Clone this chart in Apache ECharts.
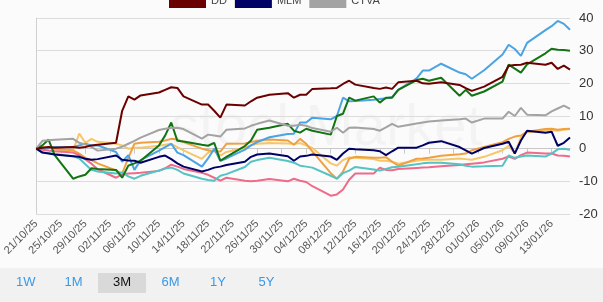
<!DOCTYPE html>
<html>
<head>
<meta charset="utf-8">
<script src="https://cdn.jsdelivr.net/npm/echarts@6/dist/echarts.min.js"></script>
<style>
  html, body { margin: 0; padding: 0; background: #fbfbfb; }
  #main { width: 603px; height: 302px; }
</style>
</head>
<body>
<div id="main"></div>
<script>
// trading days, counted in calendar days from 21/10/25
var days = [0,1,2,3,6,7,8,9,10,13,14,15,16,17,20,21,22,23,24,27,28,29,30,31,34,35,36,38,41,42,43,44,45,48,49,50,51,52,55,56,57,58,59,62,63,64,66,69,70,71,73,76,77,78,79,80,83,84,85,86,87];

// % change
var dd   = [0,0.3,0.5,0.3,0.5,0.3,0.5,1,1.2,1.8,11.6,16,15,16.3,17.2,18,18.8,18.6,16,13.5,13.5,11.6,9.5,13.5,13.2,14.5,15.6,16.5,17,15.6,16.5,16.5,18.3,18.5,18.6,19.8,20.8,19.6,18.6,18.3,18.7,18.3,20.3,20.8,20,19.9,20.3,19.5,18.5,17.7,19,22,25.4,25.6,25.7,26.3,25.7,26.3,24.4,25.4,24.2];
var mlm  = [0,-1.2,-1.5,-1.8,-2.3,-2.5,-3.1,-3.4,-3.2,-2.1,-3.4,-3.6,-3.7,-4.3,-2.5,-2.1,-3.2,-4.5,-5.5,-7,-6.5,-5.8,-5.5,-5,-4,-2.5,-1.8,-1.5,-2.3,-3.7,-2.4,-2.2,-1.8,-2.4,-3.4,-1.5,0,-0.2,-0.5,-0.8,-2,-0.8,0.3,0.3,1,1.8,2.3,0.5,-0.5,-1.5,0.2,1.5,2.1,-1.5,2.5,5.5,4.9,5.2,0.9,1.8,3.4];
var ctva = [0,2.4,2.6,2.7,3,1.8,1.3,0.5,-0.6,0,0.6,1.5,2.4,3.4,5.7,6.1,6.3,6.4,6,3.1,4.3,4,3.7,5.8,6.2,7,7.6,8.6,7,7,7.3,7,6.3,5.2,6.4,4.9,6.4,6.5,6,5.5,6.5,7.6,6.7,7.7,8,8.3,8.6,9,9.2,8,9.2,9.2,11.3,10,12.5,10.4,10.2,11.4,12.3,13.2,12.2];
var green  = [0,1,2.8,-2,-9.2,-8.5,-8,-6,-6.2,-6.5,-8.9,-5.2,-4.5,-3.7,1,4,8,2.4,2.2,1.2,0.9,1.8,-3.7,-2.5,0.8,2.5,5.8,6.4,7.6,5.5,4.9,6.1,5.5,4.3,10,10.7,15.6,14.7,16,14.1,15.6,15.6,18,21,21.4,20.8,21.7,16.2,18,16.2,17.5,20.5,25.7,24.5,23.3,25.8,29.2,30.6,30.3,30.2,30];
var blue   = [0,0,0.3,0.5,0.5,1,1.5,1,1,-1,-4,-2,-6.5,-3.5,-0.6,0.5,1.5,-1.2,-2,-5.5,-3,0,-3.7,-3,-0.3,1,2,3.5,4.5,4.6,8,8,9.5,9,10,15.6,14.5,14.6,15,15.2,15.4,15.8,18,21.5,23.9,23.9,26,23.3,22.8,21.4,24,28.8,31.8,30.5,28.4,32.4,36.3,37.5,39.1,38.2,36.4];
var orange = [0,0.5,0.3,0,-0.5,-1.5,-2.8,-3.5,-4.5,-6.7,-7.6,-2.8,1.5,1.8,2.1,2.5,3,2.8,2,0,-0.5,-0.8,-0.9,1.5,1.6,2,2.4,2.8,2.5,1.2,3,1.5,-0.8,-7.5,-9.2,-7,-3.1,-2.5,-2.8,-2.8,-2.6,-4,-5.2,-3.1,-3,-2.8,-2.2,-1.7,-1.5,-0.5,0.5,2,3,3.7,4,5.2,6,6.1,5.8,6,6.1];
var yellow = [0,0,-0.5,-0.8,-0.5,4.6,1.8,3,2.1,1.5,1,0,0.3,0.3,0.9,1.2,1.5,0.5,-0.5,-3.1,-1.2,-0.6,-2.1,-1,0.3,1,1.5,1.7,1.6,1.4,1.7,1,0.2,-4.5,-5.2,-3.5,-2.7,-2.8,-3.2,-3.7,-3.7,-4,-4.6,-3.7,-3.5,-3.4,-3.4,-3,-3.2,-3.4,-2.5,-0.5,0.9,-1.5,3.5,5,5.5,5.6,5.5,5.8,6];
var teal   = [0,-1.2,-1.3,-1.6,-2.3,-3,-4.8,-6.5,-7,-7.6,-7.3,-8.5,-9.2,-8.3,-6.7,-6.1,-5.8,-6.5,-7.6,-9.2,-9.6,-9.8,-8.3,-7.8,-5.6,-4,-3.5,-2.8,-3.8,-4.3,-5.2,-5.5,-5.8,-8.3,-9.2,-7.5,-6.7,-5.6,-6.4,-6.7,-6.2,-5.7,-5.5,-4.8,-4.5,-4.3,-4.3,-4.8,-5.2,-5.5,-5.4,-5.2,-2.1,-2.8,-2.4,-2.1,-2.4,-1.5,-0.2,0,-0.3];
var pink   = [0,-0.3,-0.6,-0.8,-1.2,-2,-3.3,-4.6,-6.3,-8.9,-7.9,-7.6,-7.5,-7.4,-6.8,-6,-4.9,-5.5,-6.2,-7.4,-8,-8.9,-9.8,-8.9,-9.8,-10,-9.8,-9.3,-10,-9.2,-9.8,-10.2,-11.5,-14.4,-14,-12.5,-9.5,-7.6,-7.6,-5.8,-6.5,-6.6,-6.2,-5.9,-5.8,-5.7,-5.4,-5,-4.8,-4.6,-4.2,-3.1,-2.4,-3.1,-2,-1.2,-1.5,-1.5,-2.1,-2.2,-2.4];

var yTicks = [-20, -10, 0, 10, 20, 30, 40];
var ranges = ['1W', '1M', '3M', '6M', '1Y', '5Y'];

function dayLabel(v) {
    var d = new Date(2025, 9, 21 + v);
    var dd2 = ('0' + d.getDate()).slice(-2);
    var mm = ('0' + (d.getMonth() + 1)).slice(-2);
    return dd2 + '/' + mm + '/' + String(d.getFullYear()).slice(-2);
}

function pairs(vals) {
    return days.map(function (d, i) { return [d, vals[i]]; });
}

var lines = [
    {name: 'S1', color: '#f5c76a', data: yellow},
    {name: 'S2', color: '#f0a040', data: orange},
    {name: 'S3', color: '#ef6b8a', data: pink},
    {name: 'S4', color: '#55c3c3', data: teal},
    {name: 'S5', color: '#4aa3e3', data: blue},
    {name: 'S6', color: '#127312', data: green},
    {name: 'CTVA', color: '#a3a3a3', data: ctva},
    {name: 'MLM', color: '#000066', data: mlm},
    {name: 'DD', color: '#6b0000', data: dd}
];

// range buttons along the bottom
var graphics = [
    {type: 'rect', left: 0, top: 268, shape: {width: 603, height: 34}, style: {fill: '#f1f1f1'}, silent: true},
    {type: 'rect', left: 98, top: 273, shape: {width: 48, height: 20}, style: {fill: '#d9d9d9'}, silent: true},
    {type: 'text', left: 170, top: 100, style: {text: 'stockMarket', fontSize: 58, fontFamily: 'Liberation Sans', fill: 'rgba(0,0,0,0.03)'}, silent: true, z: -1}
];
ranges.forEach(function (r, i) {
    graphics.push({
        type: 'text', left: 16 + i * 48.5, top: 276,
        style: {text: r, fontSize: 13, fontFamily: 'Liberation Sans', fill: r == '3M' ? '#111' : '#3a98e6'}
    });
});

var myChart = echarts.init(document.getElementById('main'));
myChart.setOption({
    backgroundColor: '#fbfbfb',
    animation: false,
    textStyle: {fontFamily: 'Liberation Sans'},
    legend: {
        data: ['DD', 'MLM', 'CTVA'],
        left: 164,
        top: -11,
        icon: 'rect',
        itemWidth: 37,
        itemHeight: 14,
        itemGap: 8,
        textStyle: {fontSize: 11, color: '#444'}
    },
    grid: {left: 31, right: 33, top: 18, bottom: 88},
    xAxis: {
        type: 'value',
        min: 0,
        max: 87,
        interval: 4,
        axisLine: {lineStyle: {color: '#c8c8c8'}},
        axisTick: {length: 5, lineStyle: {color: '#c8c8c8'}},
        splitLine: {show: false},
        axisLabel: {
            rotate: 45,
            fontSize: 11,
            color: '#555',
            margin: 8,
            showMaxLabel: false,
            formatter: dayLabel
        }
    },
    yAxis: {
        type: 'value',
        position: 'right',
        min: yTicks[0],
        max: yTicks[yTicks.length - 1],
        interval: 10,
        axisLine: {show: true, lineStyle: {color: '#d0d0d0'}},
        axisTick: {show: false},
        splitLine: {lineStyle: {color: '#dcdcdc'}},
        axisLabel: {fontSize: 13, color: '#333', margin: 9}
    },
    graphic: graphics,
    series: lines.map(function (s) {
        return {
            name: s.name,
            type: 'line',
            data: pairs(s.data),
            showSymbol: false,
            color: s.color,
            lineStyle: {width: 2}
        };
    })
});
</script>
</body>
</html>
